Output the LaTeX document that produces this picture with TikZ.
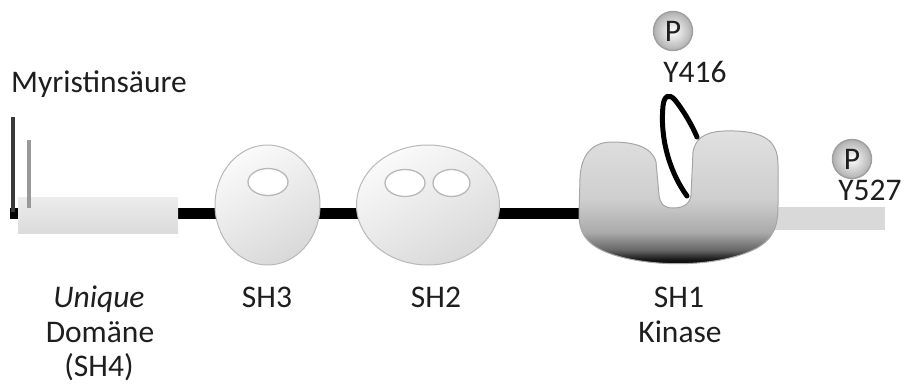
\documentclass[tikz,border=0pt]{standalone}
\usepackage{fontspec}
\setmainfont{Carlito}
% light over most of the body, darkening only near the lower edge
\pgfdeclareverticalshading{kinaseshade}{100bp}{color(0bp)=(black); color(25bp)=(black); color(28bp)=(black!92); color(31.5bp)=(black!60); color(38bp)=(black!33); color(50bp)=(black!19); color(75bp)=(black!12); color(100bp)=(black!12)}
\definecolor{txt}{HTML}{1E1E1E}
\definecolor{tail}{HTML}{D9D9D9}
\definecolor{rim}{HTML}{B8B8B8}
\begin{document}
\begin{tikzpicture}[x=1pt,y=-1pt,
  lbl/.style={font=\fontsize{31.5}{37}\selectfont, text=txt, inner sep=0pt, anchor=base},
  backbone/.style={line width=11pt, black},
  sh/.style={draw=rim, line width=1pt, shading=axis, top color=gray!4, bottom color=gray!30, shading angle=30},
  hole/.style={draw=rim, line width=1.3pt, fill=white},
  phos/.style={circle, minimum size=39pt, inner sep=0pt, draw=gray!75, line width=1.4pt, shading=radial, inner color=white, outer color=gray!62, font=\fontsize{31.5}{37}\selectfont, text=txt},
  loop/.style={line width=5pt, black, line cap=round}]
\useasboundingbox (0,0) rectangle (907,383);

% backbone
\coordinate (nterm) at (10,213);
\coordinate (kinleft) at (600,213);
\draw[backbone] (nterm) -- (kinleft);

% unique (SH4) domain
\shade[top color=gray!15, bottom color=gray!28] (18,197) rectangle (178,233);

% myristic acid anchors
\draw[line width=4.5pt, gray!45!black] (13,117) -- (13,212);
\draw[line width=4pt, gray!80] (29,140) -- (29,208);

% SH3
\path[sh] (267.5,205) ellipse [x radius=52.5, y radius=60];
\path[hole] (268,182) ellipse [x radius=20, y radius=13.5];

% SH2
\path[sh] (428,205) ellipse [x radius=71.5, y radius=60];
\path[hole] (405,183) ellipse [x radius=20, y radius=13.5];
\path[hole] (451.5,183) ellipse [x radius=18.5, y radius=13.5];

% C-terminal tail
\fill[tail] (770,207) rectangle (885,230);

% kinase domain (SH1)
\path[draw=gray!70, line width=1pt, shading=kinaseshade]
  (656,162) .. controls (652,146) and (632,142) .. (612,142)
  .. controls (592,142) and (581,155) .. (580,178)
  -- (579,215) .. controls (579,238) and (592,250) .. (625,258)
  .. controls (668,268) and (725,265) .. (757,248)
  .. controls (774,238) and (778,226) .. (778,205)
  -- (778,165) .. controls (778,144) and (768,132) .. (735,131)
  .. controls (710,130) and (696,135) .. (693,152)
  -- (691,195) .. controls (690,205) and (682,208) .. (673,208)
  .. controls (664,208) and (660,204) .. (659,195) -- cycle;

% activation loop
\coordinate (loopa) at (687,196);
\coordinate (loopb) at (697,137);
\draw[loop] (loopa) .. controls (668,170) and (660,135) .. (663,106)
  .. controls (664,96) and (669,93) .. (675,100)
  .. controls (683,110) and (692,125) .. (loopb);

% phosphates
\node[phos] (p416) at (673,31) {P};
\node[phos] (p527) at (852,159) {P};

% labels
\node[lbl, anchor=base west] (myr) at (11,92) {Myristinsäure};
\node[lbl] (y416) at (695,82) {Y416};
\node[lbl] (y527) at (870,200) {Y527};
\node[lbl] (uniq) at (99,307) {\itshape Unique};
\node[lbl] (dom) at (100,342) {Domäne};
\node[lbl] (sh4) at (99,376) {(SH4)};
\node[lbl] (sh3) at (267,307) {SH3};
\node[lbl] (sh2) at (436,307) {SH2};
\node[lbl] (sh1) at (679,307) {SH1};
\node[lbl] (kin) at (680,342) {Kinase};
\end{tikzpicture}
\end{document}
